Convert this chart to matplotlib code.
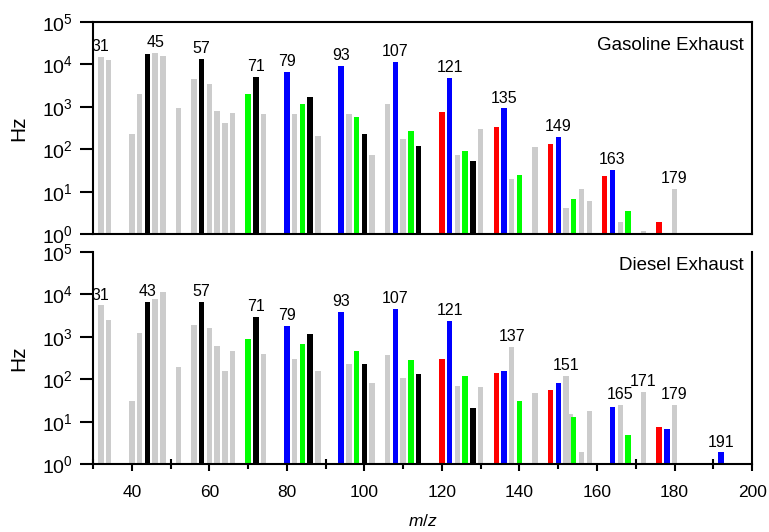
import matplotlib
matplotlib.use('Agg')
import numpy as np
from matplotlib import pyplot as plt
from matplotlib.ticker import LogLocator, NullLocator, MultipleLocator

plt.rcParams['font.family'] = ['Liberation Sans', 'DejaVu Sans']
plt.rcParams['mathtext.fontset'] = 'custom'
plt.rcParams['mathtext.rm'] = 'Liberation Sans'
plt.rcParams['mathtext.it'] = 'Liberation Sans:italic'

# ion groups: o = other, k = black series, g = green, b = blue, r = red
colors = {'o': '#cccccc', 'k': '#000000', 'g': '#00ff00', 'b': '#0000ff', 'r': '#ff0000'}

# Gasoline exhaust
gas_x = [32, 34, 40, 42, 44, 46, 48, 52, 56, 58, 60, 62, 64, 66, 70, 72, 74,
         80, 82, 84, 86, 88, 94, 96, 98, 100, 102, 106, 108, 110, 112, 114,
         120, 122, 124, 126, 128, 130, 134, 136, 138, 140, 144, 148, 150, 152,
         154, 156, 158, 162, 164, 166, 168, 172, 176, 180]
gas_hz = [14700, 12300, 223, 1950, 17700, 18200, 15500, 910, 4400, 13200, 3470, 815, 410, 695, 1950, 5000, 690,
          6600, 665, 1180, 1670, 205, 9300, 690, 575, 230, 72, 1140, 11300, 174, 265, 122,
          740, 4850, 72, 91, 54, 300, 330, 920, 19.7, 24.5, 115, 135, 198, 4.2,
          6.6, 11.7, 6, 23.5, 33, 1.95, 3.6, 1.2, 1.95, 11.7]
gas_grp = ['o', 'o', 'o', 'o', 'k', 'o', 'o', 'o', 'o', 'k', 'o', 'o', 'o', 'o', 'g', 'k', 'o',
           'b', 'o', 'g', 'k', 'o', 'b', 'o', 'g', 'k', 'o', 'o', 'b', 'o', 'g', 'k',
           'r', 'b', 'o', 'g', 'k', 'o', 'r', 'b', 'o', 'g', 'o', 'r', 'b', 'o',
           'g', 'o', 'o', 'r', 'b', 'o', 'g', 'o', 'r', 'o']
gas_lab_at = [32, 46, 58, 72, 80, 94, 108, 122, 136, 150, 164, 180]
gas_lab = ['31', '45', '57', '71', '79', '93', '107', '121', '135', '149', '163', '179']

# Diesel exhaust
die_x = [32, 34, 40, 42, 44, 46, 48, 52, 56, 58, 60, 62, 64, 66, 70, 72, 74,
         80, 82, 84, 86, 88, 94, 96, 98, 100, 102, 106, 108, 110, 112, 114,
         120, 122, 124, 126, 128, 130, 134, 136, 138, 140, 144, 148, 150, 153, 152,
         154, 156, 158, 164, 166, 168, 172, 176, 178, 180, 192]
die_hz = [5500, 2450, 31, 1210, 6500, 7800, 11300, 192, 1900, 6700, 1620, 610, 157, 465, 910, 3000, 388,
          1770, 300, 680, 1180, 157, 3800, 225, 465, 234, 83, 367, 4600, 108, 280, 131,
          295, 2350, 69, 120, 21, 66, 144, 160, 575, 31, 47, 56, 83, 15, 120,
          12.8, 1.9, 18, 22, 24.5, 4.8, 50, 7.7, 6.9, 25, 1.9]
die_grp = ['o', 'o', 'o', 'o', 'k', 'o', 'o', 'o', 'o', 'k', 'o', 'o', 'o', 'o', 'g', 'k', 'o',
           'b', 'o', 'g', 'k', 'o', 'b', 'o', 'g', 'k', 'o', 'o', 'b', 'o', 'g', 'k',
           'r', 'b', 'o', 'g', 'k', 'o', 'r', 'b', 'o', 'g', 'o', 'r', 'b', 'o', 'o',
           'g', 'o', 'o', 'b', 'o', 'g', 'o', 'r', 'b', 'o', 'b']
die_lab_at = [32, 44, 58, 72, 80, 94, 108, 122, 138, 152, 166, 172, 180, 192]
die_lab = ['31', '43', '57', '71', '79', '93', '107', '121', '137', '151', '165', '171', '179', '191']


def draw(ax, x, hz, grp, lab_at, lab, title, title_y):
    ax.bar(x, hz, width=1.4, color=[colors[g] for g in grp], log=True, zorder=2)
    for pos, txt in zip(lab_at, lab):
        h = hz[x.index(pos)]
        ax.annotate(txt, (pos, h), xytext=(0, 2), textcoords='offset points',
                    ha='center', va='bottom', fontsize=11.5, annotation_clip=False)
    ax.set_xlim(30, 200)
    ax.set_ylim(1, 1e5)
    ax.yaxis.set_major_locator(LogLocator(base=10, numticks=10))
    ax.yaxis.set_minor_locator(NullLocator())
    ax.tick_params(axis='y', which='major', direction='out', length=9.5, width=1.5,
                   labelsize=14, pad=5)
    ax.set_ylabel('Hz', fontsize=15)
    ax.yaxis.set_label_coords(-0.099, 0.5)
    for s in ax.spines.values():
        s.set_linewidth(1.5)
    ax.text(0.987, title_y, title, transform=ax.transAxes, ha='right', va='baseline', fontsize=13.5)


fig = plt.figure(figsize=(7.69, 5.32), dpi=100)
ax1 = fig.add_axes([0.121, 0.5596, 0.857, 0.3996])
ax2 = fig.add_axes([0.121, 0.1273, 0.857, 0.3994])

draw(ax1, gas_x, gas_hz, gas_grp, gas_lab_at, gas_lab, 'Gasoline Exhaust', 0.866)
draw(ax2, die_x, die_hz, die_grp, die_lab_at, die_lab, 'Diesel Exhaust', 0.912)

ax1.tick_params(axis='x', which='both', bottom=False, labelbottom=False)
ax2.spines['top'].set_visible(False)
ax2.xaxis.set_minor_locator(MultipleLocator(10))
ax2.set_xticks([40, 60, 80, 100, 120, 140, 160, 180, 200])
ax2.tick_params(axis='x', which='major', direction='out', length=5, width=1.5, labelsize=12.5, pad=10)
ax2.tick_params(axis='x', which='minor', direction='inout', length=7, width=1.5)
ax2.set_xlabel('$m/z$', fontsize=12.5, labelpad=9)

fig.savefig('out.png', dpi=100)
